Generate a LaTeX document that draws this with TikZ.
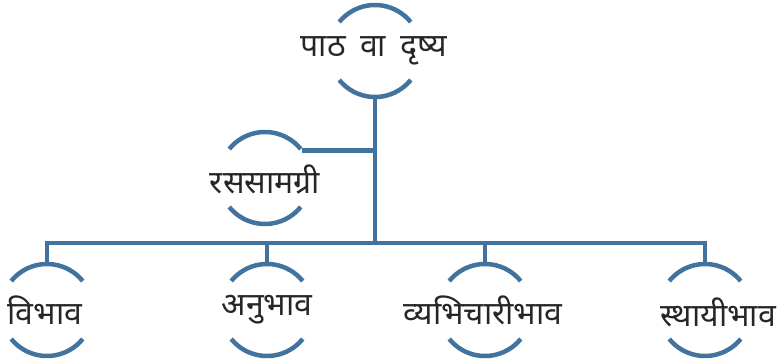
\documentclass[tikz,border=0pt]{standalone}
\usepackage{fontspec}
\newfontfamily\dev[Script=Devanagari]{Noto Sans}
\definecolor{linblue}{RGB}{66,114,158}
\begin{document}
\begin{tikzpicture}[x=1pt,y=-1pt,
  lin/.style={draw=linblue, line width=4.5pt},
  txt/.style={font=\dev\fontsize{32}{36}\selectfont, text=black!85, inner sep=0pt},
  arcnode/.style={circle, minimum size=92pt, inner sep=0pt, outer sep=0pt}]
\useasboundingbox (0,0) rectangle (780,363);
\node[arcnode] (top) at (375,51) {};
\node[arcnode] (rasa) at (265,178) {};
\node[arcnode] (vib) at (47,310) {};
\node[arcnode] (anu) at (267,310) {};
\node[arcnode] (vya) at (485,310) {};
\node[arcnode] (stha) at (705,310) {};
\node[txt] (topt) at (374,51) {पाठ\hspace{6pt} वा\hspace{6pt} दृष्य};
\node[txt] (rasat) at (265,180) {रससामग्री};
\node[txt] (vibt) at (45,310) {विभाव};
\node[txt] (anut) at (267,310) {अनुभाव};
\node[txt] (vyat) at (483,310) {व्यभिचारीभाव};
\node[txt] (sthat) at (718,312) {स्थायीभाव};
\coordinate (hub) at (375,243);
\foreach \n in {top,rasa,vib,anu,vya,stha}{
  \draw[lin] (\n.141) arc[start angle=141, end angle=39, radius=46pt];
  \draw[lin] (\n.-141) arc[start angle=-141, end angle=-39, radius=46pt];
}
\draw[lin] (top.south) -- (hub);
\draw[lin] (rasa.37) -- (rasa.37 -| hub);
\draw[lin] (vib.north) |- (stha.north |- hub) -- (stha.north);
\draw[lin] (anu.north) -- (anu.north |- hub);
\draw[lin] (vya.north) -- (vya.north |- hub);
\end{tikzpicture}
\end{document}
